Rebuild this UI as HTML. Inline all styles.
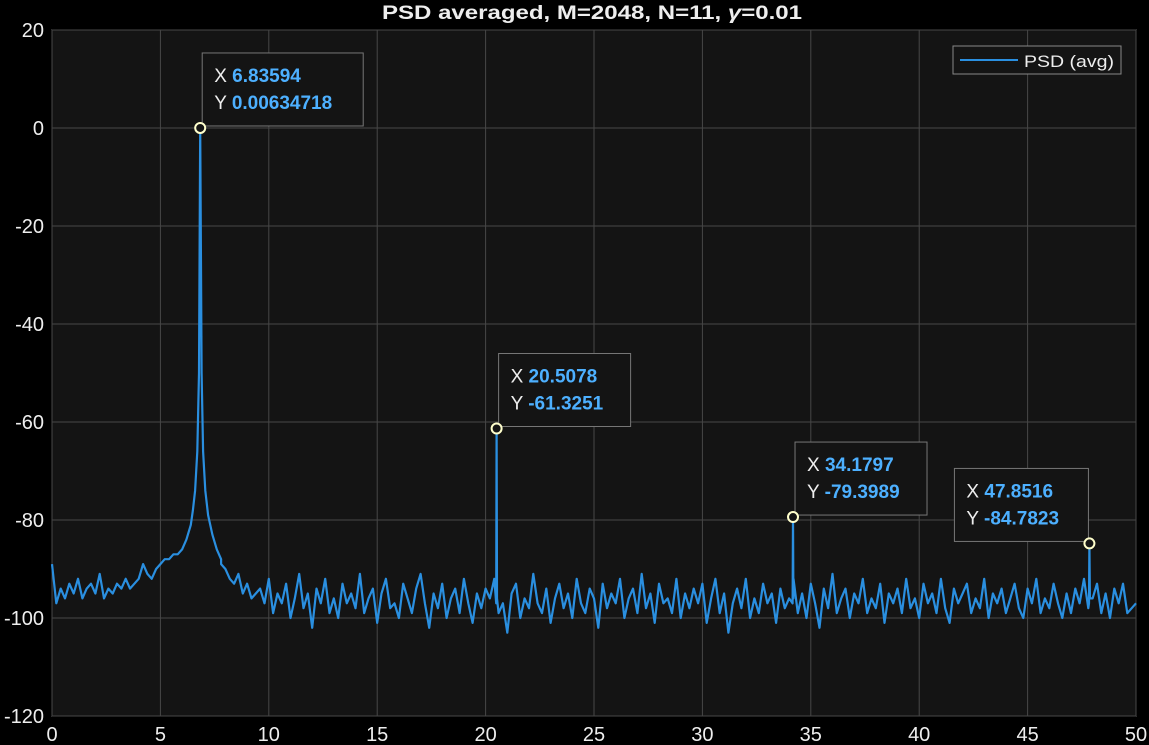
<!DOCTYPE html>
<html><head><meta charset="utf-8">
<style>
html,body{margin:0;padding:0;background:#000;}
svg{display:block;font-family:"Liberation Sans",sans-serif;}
</style></head>
<body>
<svg id="chart" width="1149" height="745" viewBox="0 0 1149 745" xmlns="http://www.w3.org/2000/svg">
<rect x="0" y="0" width="1149" height="745" fill="#000"/>
<rect x="52" y="30" width="1084" height="686" fill="#141414" stroke="#bbb" stroke-width="1"/>
<g id="grid"></g>
<g id="ticks"></g>
<text x="592" y="19" text-anchor="middle" fill="#eee" font-size="19" font-weight="bold" textLength="420" lengthAdjust="spacingAndGlyphs">PSD  averaged,  M=2048,  N=11,  <tspan font-style="italic">γ</tspan>=0.01</text>
<g id="series"></g>
<g id="tips"></g>
<g>
<rect x="953" y="46" width="168" height="28" fill="#141414" stroke="#888"/>
<line x1="960" y1="60" x2="1018" y2="60" stroke="#2a8fe0" stroke-width="2"/>
<text x="1024" y="67" fill="#eee" font-size="17" textLength="90" lengthAdjust="spacingAndGlyphs">PSD (avg)</text>
</g>
</svg>
<script>
const xTicks=[0,5,10,15,20,25,30,35,40,45,50];
const yTicks=[20,0,-20,-40,-60,-80,-100,-120];
const noiseStep=0.2;
const noiseVals=[
-89,-97,-94,-96,-93,-95,-92,-96,-94,-93,-95,-91,-96,-94,-95,-93,-94,-92,-94,-93,
-92,-89,-91,-92,-90,-89,-88,-88,-87,-86,-85,-84,-82,-80,-75,-80,-84,-86,-87,-89,
-90,-92,-93,-91,-95,-93,-96,-95,-94,-97,
-92,-99,-95,-97,-93,-100,-96,-91,-98,-95,-102,-94,-97,-92,-99,-96,-100,-93,-97,-95,
-98,-91,-99,-96,-94,-101,-95,-92,-98,-97,-100,-93,-96,-99,-94,-91,-97,-102,-95,-98,
-93,-100,-96,-94,-99,-92,-97,-101,-95,-98,-94,-96,-92,-99,-97,-103,-95,-93,-100,-96,
-98,-91,-97,-99,-94,-101,-96,-93,-98,-95,-100,-92,-97,-99,-94,-96,-102,-93,-98,-95,
-97,-92,-100,-96,-94,-99,-91,-98,-95,-101,-93,-97,-96,-99,-92,-100,-95,-98,-94,-97,
-93,-101,-96,-92,-99,-95,-103,-97,-94,-98,-92,-100,-96,-99,-93,-97,-95,-101,-94,-98,
-96,-92,-99,-95,-100,-93,-97,-102,-94,-98,-91,-99,-96,-94,-100,-95,-97,-92,-99,-96,
-98,-93,-101,-95,-97,-94,-99,-92,-98,-96,-100,-93,-97,-95,-99,-92,-98,-101,-94,-97,
-95,-93,-99,-96,-98,-92,-100,-95,-97,-94,-99,-96,-93,-98,-100,-94,-97,-92,-99,-96,
-98,-93,-97,-100,-95,-99,-94,-97,-92,-98,-96,-93,-99,-95,-100,-94,-97,-93,-99,-98,-97
];
const lobeFreq=[5.8,6.0,6.2,6.4,6.5,6.6,6.7,6.78,6.83594,6.9,6.97,7.07,7.2,7.4,7.6,7.8];
const lobeVals=[-87,-86,-84,-81,-78,-74,-66,-50,0.00634718,-50,-66,-74,-79,-83,-86,-88];
const spikeFreq=[20.5078,34.1797,47.8516];
const spikeVals=[-61.3251,-79.3989,-84.7823];
const tipFreq=[6.83594,20.5078,34.1797,47.8516];
const tipVals=[0.00634718,-61.3251,-79.3989,-84.7823];
const tipXLabel=["6.83594","20.5078","34.1797","47.8516"];
const tipYLabel=["0.00634718","-61.3251","-79.3989","-84.7823"];

const X=f=>52+f*(1084/50);
const Y=v=>30+(20-v)*(686/140);
const NS="http://www.w3.org/2000/svg";
function mk(t,a,p){const e=document.createElementNS(NS,t);for(const k in a)e.setAttribute(k,a[k]);p.appendChild(e);return e;}
const grid=document.getElementById('grid'),ticks=document.getElementById('ticks');
xTicks.forEach(t=>{
 const l=mk('line',{x1:X(t),x2:X(t),y1:30,y2:716,stroke:'#474747','stroke-width':1},grid);
 
 
 const tx=mk('text',{x:X(t),y:741,fill:'#eee','font-size':20,'text-anchor':'middle'},ticks);
 tx.textContent=t;
 
 
});
yTicks.forEach(t=>{
 const l=mk('line',{x1:52,x2:1136,y1:Y(t),y2:Y(t),stroke:'#474747','stroke-width':1},grid);
 
 
 const tx=mk('text',{x:44,y:Y(t)+7,fill:'#eee','font-size':20,'text-anchor':'end'},ticks);
 tx.textContent=t;
 
 
});
let pts=[];
noiseVals.forEach((v,i)=>{const f=i*noiseStep;if(f<lobeFreq[0]||f>lobeFreq[lobeFreq.length-1])pts.push([f,v]);});
lobeFreq.forEach((f,i)=>pts.push([f,lobeVals[i]]));
spikeFreq.forEach((f,i)=>{pts.push([f-0.02,-97]);pts.push([f,spikeVals[i]]);pts.push([f+0.02,-96]);});
pts.sort((a,b)=>a[0]-b[0]);
const d=pts.map((p,i)=>(i?'L':'M')+X(p[0]).toFixed(1)+' '+Y(p[1]).toFixed(1)).join('');
const path=mk('path',{d:d,fill:'none',stroke:'#2a8fe0','stroke-width':2.2,'stroke-linejoin':'round'},document.getElementById('series'));


const tips=document.getElementById('tips');
const boxOff=[[2,-75],[2,-75],[2,-75],[-135,-75]];
tipFreq.forEach((f,i)=>{
 const cx=X(f),cy=Y(tipVals[i]);
 const bx=cx+boxOff[i][0],by=cy+boxOff[i][1],bw=i==0?161:i==3?134:132;
 const g=mk('g',{},tips);
 
 
 mk('rect',{x:bx,y:by,width:bw,height:73,fill:'#141414',stroke:'#777'},g);
 const t1=mk('text',{x:bx+12,y:by+29,fill:'#eee','font-size':19},g);
 t1.innerHTML='X  <tspan fill="#4db0ff" font-weight="bold">'+tipXLabel[i]+'</tspan>';
 const t2=mk('text',{x:bx+12,y:by+56,fill:'#eee','font-size':19},g);
 t2.innerHTML='Y  <tspan fill="#4db0ff" font-weight="bold">'+tipYLabel[i]+'</tspan>';
 mk('circle',{cx:cx,cy:cy,r:5,fill:'#141414',stroke:'#ffffcc','stroke-width':2},g);
});
</script>
</body></html>
